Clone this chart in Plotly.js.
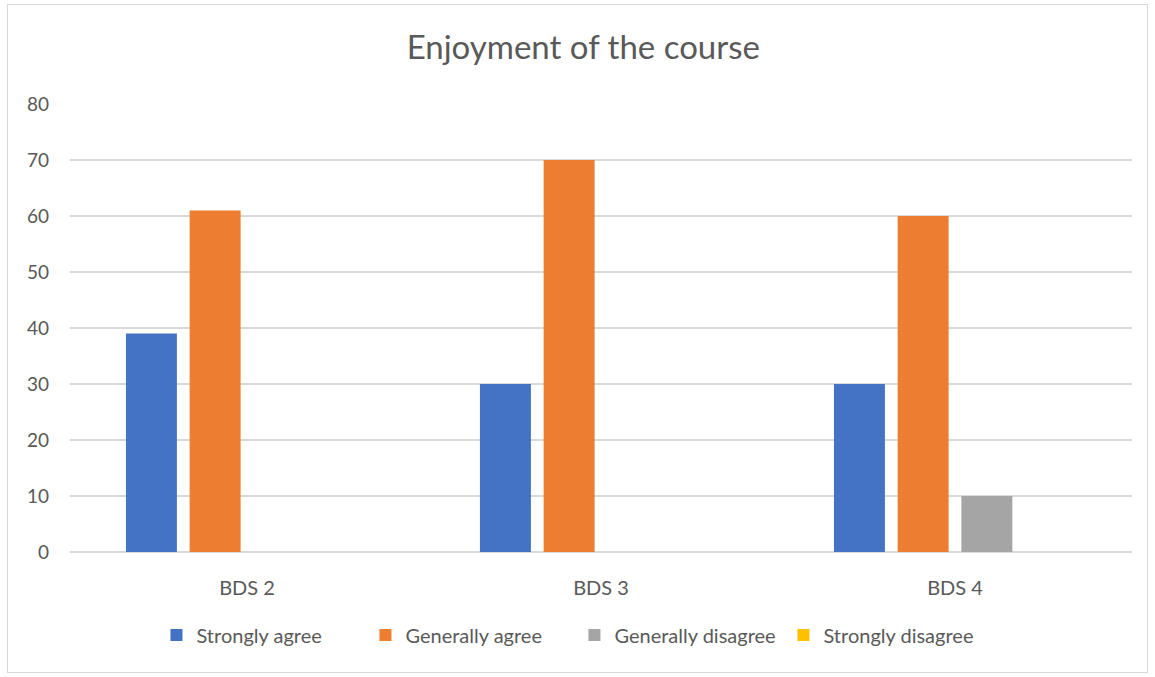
<!DOCTYPE html>
<html>
<head>
<meta charset="utf-8">
<script src="https://cdn.plot.ly/plotly-3.0.1.min.js"></script>
<style>
  html, body { margin: 0; padding: 0; background: #ffffff; }
  #wrap { position: relative; width: 1155px; height: 677px; }
  #chart { width: 1155px; height: 677px; }
  #frame { position: absolute; left: 7px; top: 4px; width: 1139px; height: 667px;
           border: 1.5px solid #d9d9d9; pointer-events: none; }
</style>
</head>
<body>
<div id="wrap">
  <div id="chart"></div>
  <div id="frame"></div>
</div>
<script>
const categories = ["BDS 2", "BDS 3", "BDS 4"];
const seriesNames = ["Strongly agree", "Generally agree", "Generally disagree", "Strongly disagree"];
const stronglyAgree = [39, 30, 30];
const generallyAgree = [61, 70, 60];
const generallyDisagree = [0, 0, 10];
const stronglyDisagree = [0, 0, 0];
const yTicks = [0, 10, 20, 30, 40, 50, 60, 70, 80];

const colors = ["#4472c4", "#ed7d31", "#a5a5a5", "#ffc000"];
const allValues = [stronglyAgree, generallyAgree, generallyDisagree, stronglyDisagree];

const traces = allValues.map((vals, i) => ({
  type: "bar",
  name: seriesNames[i],
  x: categories,
  y: vals,
  marker: { color: colors[i], line: { width: 0 } },
  hoverinfo: "x+y+name"
}));

const fontFam = "Lato, 'Open Sans', sans-serif";

const layout = {
  width: 1155,
  height: 677,
  margin: { l: 70, r: 23, t: 104, b: 125 },
  paper_bgcolor: "rgba(0,0,0,0)",
  plot_bgcolor: "#ffffff",
  barmode: "group",
  bargap: 0.28,
  bargroupgap: 0.2,
  title: {
    text: "Enjoyment of the course",
    font: { family: fontFam, size: 33, color: "#595959" },
    x: 0.505, xanchor: "center",
    y: 0.93, yanchor: "middle"
  },
  xaxis: {
    type: "category",
    showgrid: false,
    zeroline: false,
    showline: false,
    ticks: "",
    tickfont: { family: fontFam, size: 20, color: "#595959" },
    ticklabelstandoff: 22
  },
  yaxis: {
    range: [0, 80],
    tickvals: yTicks,
    ticktext: yTicks.map(String),
    showgrid: true,
    gridcolor: "#d9d9d9",
    gridwidth: 1.5,
    zeroline: true,
    zerolinecolor: "#d9d9d9",
    zerolinewidth: 1.5,
    showline: false,
    ticks: "",
    tickfont: { family: fontFam, size: 19, color: "#595959" },
    ticklabelstandoff: 20
  },
  legend: {
    orientation: "h",
    x: 0.475, xanchor: "center",
    y: -0.185, yanchor: "middle",
    font: { family: fontFam, size: 20, color: "#595959" },
    itemwidth: 30,
    entrywidth: 164,
    entrywidthmode: "pixels",
    traceorder: "normal"
  },
  showlegend: true
};

Plotly.newPlot("chart", traces, layout, { displayModeBar: false, staticPlot: true });
</script>
</body>
</html>
